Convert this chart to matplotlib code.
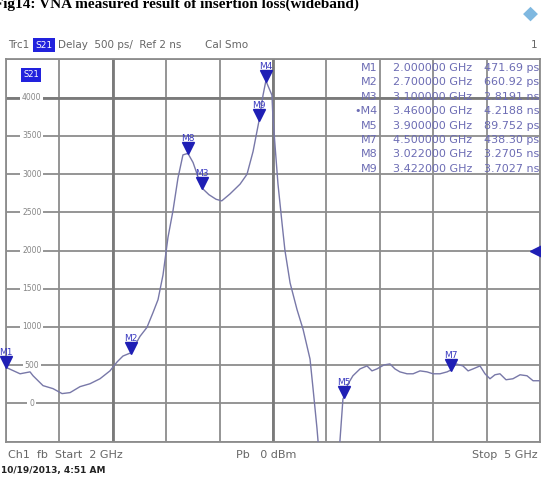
import numpy as np
import matplotlib
matplotlib.use("Agg")
import matplotlib.pyplot as plt
import matplotlib.transforms as mtransforms

# trace S21 group delay (GHz, ps)
freq = [2.000, 2.079, 2.135, 2.152, 2.208, 2.264, 2.315, 2.360, 2.416, 2.472,
        2.528, 2.584, 2.624, 2.657, 2.700, 2.753, 2.792, 2.826, 2.854, 2.882,
        2.910, 2.938, 2.966, 2.994, 3.022, 3.051, 3.100, 3.140, 3.180, 3.212,
        3.258, 3.315, 3.354, 3.388, 3.422, 3.444, 3.460, 3.494, 3.500, 3.511,
        3.528, 3.551, 3.567, 3.596, 3.635, 3.669, 3.708, 3.725, 3.747, 3.753,
        3.800, 3.860, 3.876, 3.893, 3.900, 3.920, 3.949, 3.989, 4.028, 4.056,
        4.084, 4.124, 4.157, 4.185, 4.213, 4.253, 4.287, 4.326, 4.365, 4.399,
        4.438, 4.478, 4.500, 4.528, 4.567, 4.596, 4.624, 4.663, 4.691, 4.719,
        4.747, 4.775, 4.809, 4.848, 4.888, 4.927, 4.961, 5.000]
delay = [472, 388, 413, 362, 233, 194, 129, 142, 220, 258,
         323, 426, 543, 620, 661, 878, 995, 1189, 1357, 1680,
         2171, 2519, 2946, 3250, 3270, 3150, 2819, 2730, 2670, 2649,
         2739, 2868, 2997, 3295, 3703, 4031, 4219, 4031, 3721, 3385,
         2868, 2351, 2003, 1576, 1227, 969, 581, 194, -323, -491,
         -2000, -2000, -491, 60, 90, 250, 362, 452, 491, 426,
         452, 504, 517, 452, 413, 388, 388, 426, 413, 388,
         388, 413, 438, 517, 491, 426, 452, 491, 388, 323,
         375, 388, 310, 323, 375, 362, 297, 297]

mk_names = ["M1", "M2", "M3", "M4", "M5", "M7", "M8", "M9"]
mk_freq = [2.0, 2.7, 3.1, 3.46, 3.9, 4.5, 3.022, 3.422]
mk_delay = [471.69, 660.92, 2819.1, 4218.8, 89.752, 438.30, 3270.5, 3702.7]
mk_ftext = ["2.000000 GHz", "2.700000 GHz", "3.100000 GHz", "3.460000 GHz",
            "3.900000 GHz", "4.500000 GHz", "3.022000 GHz", "3.422000 GHz"]
mk_vtext = ["471.69 ps", "660.92 ps", "2.8191 ns", "4.2188 ns",
            "89.752 ps", "438.30 ps", "3.2705 ns", "3.7027 ns"]

ytick_vals = [0, 500, 1000, 1500, 2000, 2500, 3000, 3500, 4000]
ref_level = 2000

W, H = 541, 480
fig = plt.figure(figsize=(W / 100, H / 100), dpi=100)
fig.patch.set_facecolor("white")
plt.rcParams["font.family"] = ["DejaVu Sans"]

def fx(px):
    return px / W

def fy(py):
    return 1 - py / H

ax = fig.add_axes([fx(6), 1 - 441.7 / H, 534 / W, 382.4 / H])
gridc = "#8c8c8c"
ax.set_xlim(2, 5)
ax.set_ylim(-500, 4500)
ax.set_xticks(np.linspace(2, 5, 11))
ax.set_yticks(np.arange(-500, 4501, 500))
ax.tick_params(length=0, labelbottom=False, labelleft=False)
ax.grid(True, color=gridc, lw=1.3)
for s in ax.spines.values():
    s.set_color(gridc)
    s.set_linewidth(1.3)
# the darker lines of the screenshot
ax.axvline(2.6, color="#7a7a7a", lw=2.0)
ax.axvline(3.5, color="#7a7a7a", lw=2.0)
ax.axhline(4000, color="#7a7a7a", lw=2.0)

# y scale labels sit inside the first column
for v in ytick_vals:
    ax.text(2.145, v, str(v), ha="center", va="center", fontsize=5.5, color="#858585",
            bbox=dict(boxstyle="square,pad=0.25", fc="white", ec="none"), zorder=3)
ax.text(2.14, 4300, "S21", ha="center", va="center", fontsize=6, color="white",
        bbox=dict(boxstyle="square,pad=0.3", fc="#2222dd", ec="none"), zorder=3)

ax.plot(freq, delay, color="#7878a8", lw=1.0, zorder=4)

# markers: triangles with the tip on the trace
tri = mtransforms.offset_copy(ax.transData, fig=fig, x=0, y=5, units="dots")
lab = mtransforms.offset_copy(ax.transData, fig=fig, x=0, y=10, units="dots")
ax.plot(mk_freq, mk_delay, "v", ms=8, color="#1f1fb5", transform=tri,
        clip_on=False, zorder=5)
for n, f, d in zip(mk_names, mk_freq, mk_delay):
    ax.text(f, d, n, transform=lab, ha="center", va="bottom", fontsize=6.5,
            color="#3a3ac0", clip_on=False, zorder=5)
ref = mtransforms.offset_copy(ax.transData, fig=fig, x=-4, y=0, units="dots")
ax.plot([5], [ref_level], "<", ms=8, color="#1f1fb5", transform=ref,
        clip_on=False, zorder=5)

# marker table
tc = "#6c6cb4"
for i in range(len(mk_names)):
    y = fy(68 + 14.4 * i)
    name = ("\u2022" + mk_names[i]) if mk_names[i] == "M4" else mk_names[i]
    fig.text(fx(378), y, name, ha="right", va="center", fontsize=8, color=tc)
    fig.text(fx(472), y, mk_ftext[i], ha="right", va="center", fontsize=8, color=tc)
    fig.text(fx(539), y, mk_vtext[i], ha="right", va="center", fontsize=8, color=tc)

# header line
hc = "#666666"
fig.text(fx(8), fy(45), "Trc1", fontsize=7.5, color=hc, va="center")
fig.text(fx(44), fy(45), "S21", fontsize=6.5, color="white", va="center", ha="center",
         bbox=dict(boxstyle="square,pad=0.25", fc="#2222dd", ec="none"))
fig.text(fx(58), fy(45), "Delay  500 ps/  Ref 2 ns", fontsize=7.5, color=hc, va="center")
fig.text(fx(205), fy(45), "Cal Smo", fontsize=7.5, color=hc, va="center")
fig.text(fx(537), fy(45), "1", fontsize=7.5, color=hc, va="center", ha="right")
fig.text(fx(530), fy(13), "\u25c6", fontsize=14, color="#7fb8e0", ha="center", va="center")

# footer
fig.text(fx(8), fy(455), "Ch1  fb  Start  2 GHz", fontsize=8, color=hc, va="center")
fig.text(fx(236), fy(455), "Pb   0 dBm", fontsize=8, color=hc, va="center")
fig.text(fx(538), fy(455), "Stop  5 GHz", fontsize=8, color=hc, va="center", ha="right")
fig.text(fx(1), fy(470), "10/19/2013, 4:51 AM", fontsize=6.5, color="#222222",
         va="center", fontweight="bold")

# caption, cut off by the top of the screenshot
fig.text(fx(-6), fy(8), "Fig14: VNA measured result of insertion loss(wideband)",
         family="Liberation Serif", fontweight="bold", fontsize=11, va="baseline")

fig.savefig("out.png", dpi=100)
